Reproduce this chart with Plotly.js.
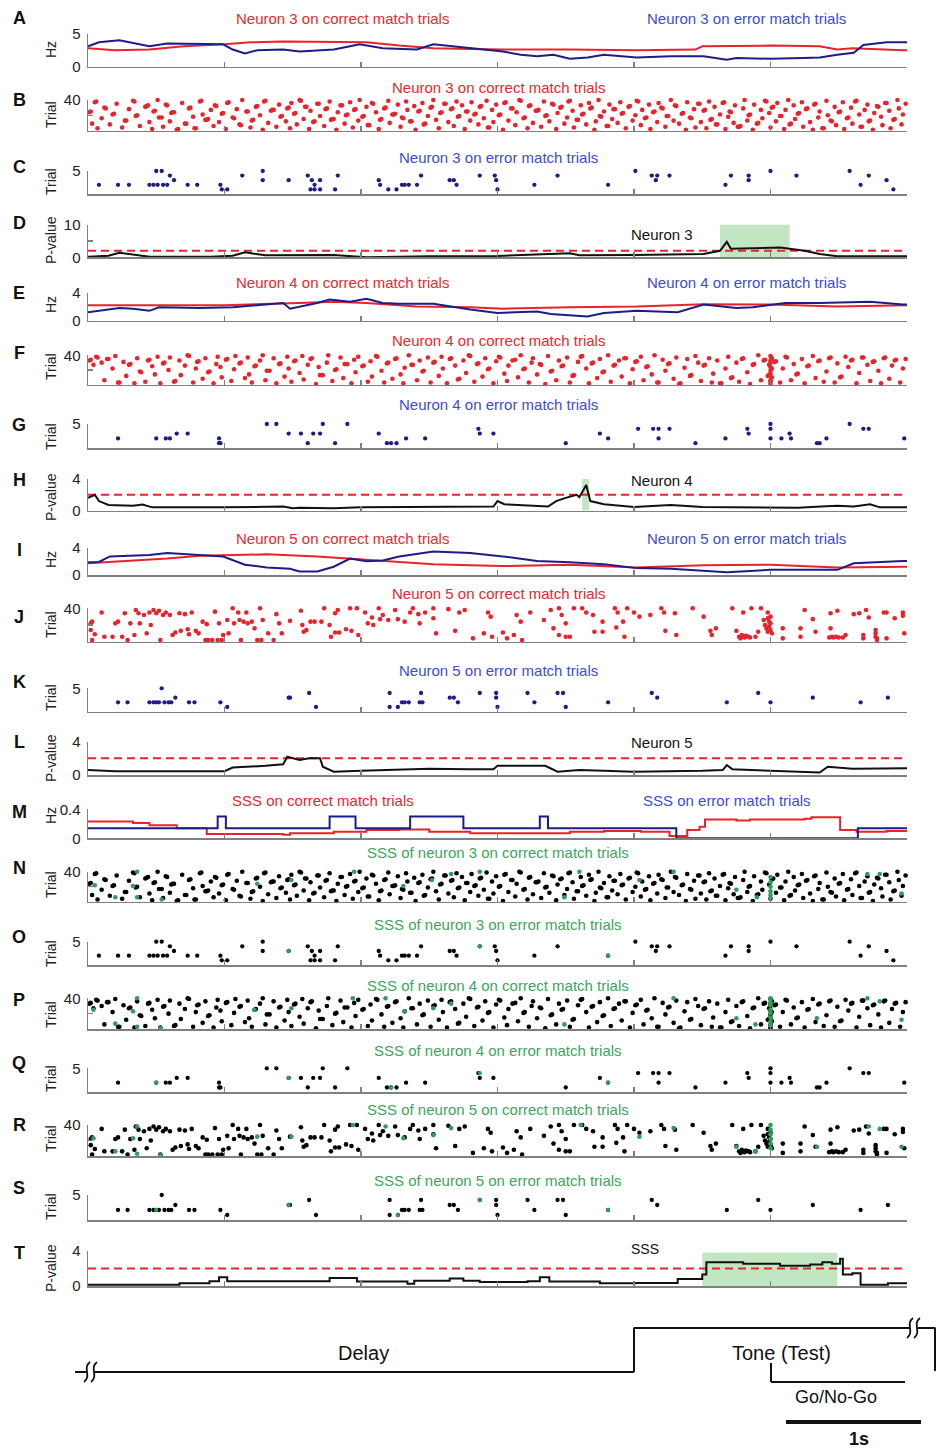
<!DOCTYPE html>
<html><head><meta charset="utf-8">
<script src="https://cdn.plot.ly/plotly-3.0.1.min.js"></script>
<style>body{margin:0;padding:0;background:#fff}#chart{width:937px;height:1448px}</style>
</head><body><div id="chart"></div>
<script>
// ---------------- DATA ----------------
const xTicks=[1,2,3,4,5,6];
const threshold=2;
// firing rates (Hz)
const n3CorrRateT=[0,0.2,0.45,0.7,1.0,1.19,1.43,1.8,2.04,2.28,2.53,2.8,3.04,3.53,4.02,4.45,4.5,5.0,5.36,5.49,5.6,5.97,6.0];
const n3CorrRate=[2.8,2.5,2.6,3.1,3.4,3.7,3.8,3.8,3.7,3.2,2.8,2.7,2.6,2.6,2.5,2.6,3.1,3.2,3.1,2.6,2.8,2.5,2.5];
const n3ErrRateT=[0,0.08,0.23,0.33,0.45,0.58,0.82,0.99,1.06,1.15,1.24,1.43,1.55,1.8,1.92,1.99,2.16,2.41,2.53,2.8,2.92,3.04,3.17,3.29,3.41,3.53,3.66,3.78,4.02,4.27,4.51,4.68,4.75,5.0,5.24,5.36,5.49,5.61,5.68,5.85,6.0];
const n3ErrRate=[3.1,3.7,4.0,3.6,3.1,3.5,3.4,3.4,2.6,2.0,2.5,2.6,2.3,2.6,3.1,3.4,2.8,2.6,3.4,2.8,2.6,2.3,1.8,1.6,1.8,1.2,1.4,1.8,1.4,1.6,1.6,1.06,1.3,1.2,1.3,1.4,1.8,2.1,3.3,3.7,3.7];
const n4CorrRateT=[0,1.0,1.55,1.8,2.04,2.41,2.8,3.04,3.53,4.02,4.51,5.0,5.49,5.97,6.0];
const n4CorrRate=[2.2,2.2,2.5,2.7,2.5,2.0,1.9,1.7,1.9,2.0,2.35,2.3,2.0,2.2,2.2];
const n4ErrRateT=[0,0.08,0.23,0.33,0.45,0.52,0.82,1.06,1.31,1.43,1.48,1.55,1.68,1.77,1.92,2.04,2.16,2.28,2.53,2.8,3.0,3.29,3.39,3.66,3.78,4.02,4.32,4.51,4.75,4.87,5.11,5.36,5.49,5.73,5.97,6.0];
const n4ErrRate=[1.2,1.4,1.8,1.7,1.4,1.9,1.8,1.9,2.25,2.5,1.7,2.0,2.5,3.0,2.7,3.1,2.5,2.4,2.4,1.6,1.1,1.3,0.95,0.6,1.1,1.4,1.2,2.3,1.8,1.9,2.5,2.5,2.6,2.7,2.3,2.3];
const n5CorrRateT=[0,0.33,0.58,0.82,1.06,1.31,1.68,1.92,2.28,2.53,2.8,3.04,3.53,4.02,4.51,5.0,5.49,5.97,6.0];
const n5CorrRate=[1.7,2.05,2.4,2.8,2.9,3.0,2.7,2.4,1.85,1.55,1.4,1.3,1.5,1.1,1.4,1.5,1.1,1.2,1.2];
const n5ErrRateT=[0,0.08,0.16,0.33,0.45,0.58,0.82,0.99,1.15,1.31,1.48,1.55,1.68,1.8,1.92,2.04,2.16,2.28,2.53,2.8,3.04,3.29,3.53,3.78,4.02,4.27,4.68,5.0,5.49,5.61,5.97,6.0];
const n5ErrRate=[1.85,1.9,2.7,2.8,2.9,3.2,2.9,2.7,1.5,1.1,0.9,0.5,0.5,1.2,2.4,2.0,2.1,2.7,3.4,3.2,2.7,2.05,1.85,1.55,1.0,0.9,0.4,0.75,0.75,1.7,2.05,2.05];
const sssCorrRateT=[0,0.33,0.45,0.65,0.87,1.43,1.48,1.8,2.04,2.28,2.5,2.8,3.53,3.78,4.05,4.26,4.39,4.48,4.52,4.75,4.85,5.25,5.3,5.49,5.51,5.63,5.85,6.0];
const sssCorrRate=[0.23,0.21,0.18,0.14,0.06,0.05,0.07,0.09,0.115,0.12,0.09,0.07,0.09,0.1,0.09,0.03,0.115,0.16,0.26,0.245,0.26,0.27,0.29,0.29,0.115,0.09,0.10,0.10];
const sssErrRateT=[0,0.95,1.01,1.77,1.96,2.36,2.75,3.31,3.37,4.31,5.64,6.0];
const sssErrRate=[0.14,0.30,0.14,0.30,0.14,0.30,0.14,0.30,0.14,0,0.14,0.14];
// p-value curves
const pN3T=[0,0.15,0.23,0.3,0.45,0.9,1.06,1.15,1.3,1.8,2.04,2.5,3.0,3.53,3.6,4.0,4.51,4.63,4.68,4.71,4.8,5.07,5.14,5.25,5.36,5.49,6.0];
const pN3=[0.2,0.45,1.4,1.0,0.2,0.2,0.45,1.5,0.6,0.7,0.0,0.3,0.4,1.2,0.6,0.7,1.0,2.0,4.7,2.6,2.7,3.0,2.6,2.0,1.0,0.3,0.3];
const pN4T=[0,0.05,0.08,0.15,0.33,0.4,0.47,0.55,1.0,1.43,1.5,1.55,1.8,2.0,2.5,2.8,2.97,3.0,3.05,3.37,3.43,3.5,3.58,3.6,3.65,3.68,3.78,4.0,4.27,4.5,4.85,5.0,5.2,5.37,5.49,5.61,5.73,5.8,6.0];
const pN4=[1.6,2.0,1.2,0.7,0.6,0.75,0.4,0.4,0.4,0.5,0.3,0.35,0.3,0.4,0.45,0.4,0.5,1.2,0.8,0.5,1.2,1.6,2.0,1.7,3.25,1.2,0.8,0.45,0.7,0.45,0.4,0.3,0.35,0.5,0.6,0.5,0.8,0.4,0.4];
const pN5T=[0,0.2,1.0,1.06,1.3,1.43,1.46,1.55,1.62,1.7,1.72,1.8,2.0,2.5,2.8,2.97,3.0,3.35,3.44,3.6,3.78,4.0,4.5,4.65,4.68,4.72,5.0,5.36,5.42,5.6,6.0];
const pN5=[0.6,0.45,0.45,0.9,1.1,1.3,2.2,1.8,2.0,2.0,1.0,0.4,0.5,0.75,0.7,0.7,1.1,1.1,0.4,0.6,0.5,0.4,0.5,0.6,1.2,0.7,0.5,0.3,1.0,0.75,0.8];
const pSSST=[0,0.45,0.67,0.89,0.96,1.02,1.77,1.97,2.34,2.39,2.65,2.75,2.87,3.22,3.31,3.38,3.75,4.01,4.32,4.5,4.53,4.8,5.07,5.29,5.38,5.45,5.51,5.53,5.6,5.66,5.86,6.0];
const pSSS=[0.15,0.15,0.3,0.55,1.0,0.55,0.9,0.5,0.25,0.6,0.85,0.6,0.45,0.55,1.0,0.5,0.3,0.35,0.8,1.3,2.7,2.55,2.3,2.45,2.7,2.55,3.1,1.3,1.45,0.15,0.3,0.3];
const sigN3=[4.63,5.14], sigN4=[3.62,3.67], sigSSS=[4.5,5.49];
const sigTop={n3:10,n4:4.2,sss:3.8};
// spike rasters [time s, trial]
const n3CorrSpikes=[[0.01,24],[0.02,25],[0.03,9],[0.05,37],[0.06,38],[0.07,3],[0.1,16],[0.12,30],[0.13,29],[0.16,8],[0.18,21],[0.19,22],[0.21,35],[0.25,4],[0.27,13],[0.28,13],[0.3,28],[0.33,39],[0.34,38],[0.35,19],[0.36,20],[0.38,6],[0.42,31],[0.43,32],[0.44,33],[0.45,11],[0.47,2],[0.48,25],[0.49,26],
[0.51,40],[0.52,17],[0.54,17],[0.55,5],[0.57,34],[0.58,33],[0.6,12],[0.61,23],[0.62,24],[0.63,24],[0.65,1],[0.66,2],[0.69,36],[0.71,9],[0.72,9],[0.74,29],[0.75,30],[0.77,18],[0.78,3],[0.79,3],[0.82,38],[0.83,39],[0.84,21],[0.86,14],[0.87,14],[0.88,15],[0.9,27],[0.92,6],[0.93,33],[0.94,32],[0.96,11],[0.98,22],[0.99,23],
[1.01,2],[1.02,36],[1.03,37],[1.06,17],[1.07,16],[1.09,28],[1.11,8],[1.12,7],[1.13,40],[1.16,25],[1.17,25],[1.19,4],[1.2,13],[1.21,14],[1.23,31],[1.24,32],[1.26,20],[1.28,1],[1.29,38],[1.3,39],[1.32,10],[1.34,26],[1.35,27],[1.36,27],[1.38,5],[1.4,34],[1.41,18],[1.42,19],[1.45,12],[1.46,29],[1.47,30],[1.48,3],[1.49,36],
[1.51,22],[1.52,23],[1.53,8],[1.55,40],[1.56,39],[1.58,15],[1.59,31],[1.6,31],[1.62,2],[1.63,26],[1.65,11],[1.66,12],[1.68,35],[1.69,35],[1.7,19],[1.73,6],[1.74,28],[1.75,29],[1.77,38],[1.78,14],[1.79,15],[1.8,15],[1.82,1],[1.83,24],[1.85,33],[1.86,33],[1.88,9],[1.89,20],[1.9,21],[1.92,37],[1.94,4],[1.95,27],[1.96,28],[1.98,13],[1.99,40],
[2.01,18],[2.02,19],[2.04,31],[2.05,7],[2.06,7],[2.08,36],[2.09,35],[2.11,24],[2.13,2],[2.14,14],[2.15,15],[2.17,29],[2.18,30],[2.2,39],[2.21,10],[2.23,21],[2.24,21],[2.25,22],[2.27,34],[2.29,5],[2.3,17],[2.31,16],[2.33,38],[2.34,27],[2.36,12],[2.37,12],[2.39,32],[2.4,1],[2.42,25],[2.43,26],[2.45,36],[2.46,8],[2.47,9],[2.49,19],
[2.51,30],[2.52,31],[2.53,40],[2.55,14],[2.57,3],[2.58,23],[2.59,24],[2.61,35],[2.62,35],[2.64,11],[2.66,28],[2.67,29],[2.68,6],[2.7,38],[2.71,18],[2.72,19],[2.74,33],[2.76,2],[2.77,25],[2.78,25],[2.8,13],[2.81,37],[2.83,21],[2.84,22],[2.86,8],[2.87,31],[2.88,32],[2.9,16],[2.92,39],[2.93,4],[2.94,4],[2.96,27],[2.97,11],[2.99,34],
[3.01,20],[3.02,21],[3.04,1],[3.05,36],[3.06,37],[3.08,13],[3.1,29],[3.11,29],[3.13,7],[3.14,24],[3.16,40],[3.17,39],[3.19,16],[3.2,17],[3.22,3],[3.23,32],[3.24,33],[3.26,10],[3.28,26],[3.29,26],[3.3,27],[3.32,5],[3.34,38],[3.35,19],[3.36,20],[3.38,12],[3.4,35],[3.41,34],[3.43,2],[3.44,23],[3.46,30],[3.47,31],[3.49,9],
[3.51,17],[3.52,38],[3.53,39],[3.55,26],[3.56,4],[3.58,14],[3.59,14],[3.61,33],[3.62,21],[3.63,22],[3.65,8],[3.67,36],[3.68,29],[3.69,30],[3.71,1],[3.72,12],[3.74,40],[3.75,19],[3.76,18],[3.78,25],[3.8,6],[3.81,6],[3.82,34],[3.84,15],[3.85,28],[3.86,28],[3.88,10],[3.9,37],[3.91,22],[3.92,23],[3.94,3],[3.96,31],[3.97,32],[3.99,13],
[4.01,20],[4.02,39],[4.03,38],[4.05,7],[4.06,27],[4.08,16],[4.09,17],[4.11,34],[4.12,2],[4.14,24],[4.15,25],[4.17,11],[4.18,36],[4.2,30],[4.21,29],[4.23,5],[4.24,19],[4.25,19],[4.27,40],[4.29,13],[4.3,33],[4.31,32],[4.33,9],[4.35,22],[4.36,23],[4.38,1],[4.39,37],[4.41,17],[4.42,16],[4.44,28],[4.45,4],[4.47,35],[4.48,35],[4.49,11],
[4.51,26],[4.52,27],[4.53,3],[4.55,38],[4.56,14],[4.57,15],[4.59,31],[4.6,8],[4.61,8],[4.63,21],[4.65,36],[4.66,37],[4.67,2],[4.69,18],[4.7,25],[4.71,24],[4.73,10],[4.74,33],[4.76,5],[4.77,5],[4.78,6],[4.8,29],[4.81,40],[4.83,13],[4.84,20],[4.85,21],[4.87,1],[4.88,34],[4.9,9],[4.91,10],[4.93,27],[4.94,16],[4.96,39],[4.97,38],[4.99,23],
[5.0,4],[5.01,30],[5.02,31],[5.04,12],[5.05,36],[5.07,19],[5.08,19],[5.1,2],[5.11,27],[5.13,40],[5.14,8],[5.15,9],[5.17,33],[5.18,15],[5.2,22],[5.21,23],[5.23,37],[5.24,5],[5.26,28],[5.27,29],[5.29,11],[5.31,1],[5.32,34],[5.33,35],[5.35,17],[5.36,25],[5.38,3],[5.39,3],[5.41,39],[5.42,20],[5.44,13],[5.45,12],[5.47,31],[5.48,7],
[5.5,24],[5.51,25],[5.53,37],[5.54,2],[5.56,16],[5.57,17],[5.59,30],[5.6,9],[5.62,38],[5.63,39],[5.65,21],[5.66,5],[5.67,5],[5.69,27],[5.71,34],[5.72,12],[5.73,13],[5.75,1],[5.76,23],[5.78,32],[5.79,31],[5.81,18],[5.82,7],[5.84,36],[5.85,36],[5.87,26],[5.88,3],[5.9,14],[5.91,15],[5.93,40],[5.94,29],[5.96,8],[5.97,21],[5.99,35]];
const n3ErrSpikes=[[0.13,6],[0.08,2],[0.22,2],[0.30,2],[0.38,6],[0.50,7],[0.50,5],[0.54,5],[0.45,2],[0.48,2],[0.51,2],[0.55,2],[0.58,2],[0.60,4],[0.63,3],[0.73,2],[0.80,2],[0.97,2],[0.98,1],[1.02,1],[1.13,4],[1.28,5],[1.28,3],[1.37,7],[1.47,3],[1.61,4],[1.64,3],[1.70,3],[1.63,1],[1.66,1],[1.70,1],[1.66,2],[1.83,4],[1.81,1],[2.0,6],[2.13,3],[2.14,2],[2.2,1],[2.26,1],[2.3,2],[2.32,2],[2.35,2],[2.41,2],[2.44,4],[2.65,3],[2.68,3],[2.7,2],[2.87,4],[2.98,4],[2.99,3],[3.0,1],[3.27,2],[3.44,4],[3.81,2],[4.01,5],[4.13,4],[4.17,4],[4.16,3],[4.26,4],[4.57,6],[4.67,2],[4.71,4],[4.84,4],[4.84,3],[5.0,5],[5.08,7],[5.19,7],[5.19,4],[5.58,5],[5.69,7],[5.72,4],[5.66,2],[5.85,3],[5.9,1]];
const n4CorrSpikes=[[0.01,33],[0.02,34],[0.04,27],[0.06,38],[0.07,37],[0.1,30],[0.12,6],[0.14,35],[0.15,35],[0.18,22],[0.2,39],[0.22,3],[0.23,3],[0.26,31],[0.28,12],[0.3,27],[0.31,28],[0.34,2],[0.36,36],[0.38,18],[0.39,17],[0.42,4],[0.44,33],[0.45,34],[0.47,25],[0.49,14],
[0.51,38],[0.53,2],[0.55,29],[0.56,30],[0.59,20],[0.6,37],[0.63,4],[0.64,5],[0.67,33],[0.68,13],[0.71,26],[0.73,40],[0.74,39],[0.77,3],[0.79,22],[0.8,31],[0.81,32],[0.84,8],[0.86,36],[0.88,17],[0.89,18],[0.92,2],[0.94,28],[0.95,38],[0.97,24],[0.98,10],
[1.01,34],[1.02,35],[1.05,5],[1.07,21],[1.08,39],[1.11,29],[1.12,30],[1.15,9],[1.17,37],[1.18,14],[1.2,3],[1.22,25],[1.23,26],[1.26,33],[1.28,40],[1.3,6],[1.31,19],[1.33,19],[1.36,36],[1.38,2],[1.4,28],[1.41,29],[1.44,11],[1.46,38],[1.47,22],[1.49,4],
[1.51,32],[1.52,33],[1.55,16],[1.57,39],[1.58,7],[1.61,27],[1.63,35],[1.64,36],[1.67,1],[1.69,24],[1.7,13],[1.72,13],[1.75,30],[1.76,40],[1.79,5],[1.81,20],[1.82,21],[1.85,37],[1.87,9],[1.88,28],[1.9,28],[1.93,2],[1.95,34],[1.96,17],[1.98,38],
[2.01,25],[2.02,26],[2.05,4],[2.07,32],[2.08,11],[2.11,39],[2.12,38],[2.15,19],[2.17,3],[2.19,29],[2.2,30],[2.23,8],[2.25,35],[2.26,36],[2.29,14],[2.31,2],[2.32,23],[2.35,40],[2.37,27],[2.38,27],[2.41,6],[2.43,33],[2.45,18],[2.46,19],[2.49,37],
[2.51,3],[2.53,30],[2.54,31],[2.57,12],[2.59,38],[2.6,22],[2.63,2],[2.65,35],[2.66,36],[2.69,26],[2.71,7],[2.72,8],[2.75,33],[2.77,16],[2.79,40],[2.8,39],[2.83,4],[2.85,28],[2.86,29],[2.89,11],[2.91,36],[2.93,21],[2.94,22],[2.97,2],[2.99,32],
[3.01,38],[3.02,37],[3.05,15],[3.07,5],[3.08,26],[3.11,33],[3.13,34],[3.15,10],[3.17,40],[3.19,21],[3.2,22],[3.23,3],[3.25,30],[3.26,36],[3.29,14],[3.31,28],[3.32,27],[3.35,1],[3.37,39],[3.39,18],[3.4,19],[3.43,6],[3.45,33],[3.47,25],[3.48,26],
[3.51,37],[3.53,3],[3.55,12],[3.56,13],[3.59,31],[3.61,38],[3.62,39],[3.65,22],[3.67,2],[3.69,29],[3.7,30],[3.73,9],[3.75,35],[3.77,17],[3.78,18],[3.81,40],[3.83,4],[3.85,26],[3.86,27],[3.89,33],[3.91,11],[3.93,36],[3.94,36],[3.97,2],[3.99,21],
[4.01,31],[4.02,32],[4.05,38],[4.07,6],[4.09,24],[4.1,25],[4.13,14],[4.15,40],[4.17,3],[4.18,3],[4.21,34],[4.23,19],[4.25,28],[4.26,29],[4.29,8],[4.31,37],[4.33,1],[4.34,2],[4.37,23],[4.39,35],[4.41,12],[4.42,13],[4.45,39],[4.47,30],[4.49,5],
[4.51,26],[4.52,27],[4.55,36],[4.57,3],[4.58,15],[4.61,33],[4.63,2],[4.64,2],[4.67,22],[4.69,38],[4.71,9],[4.72,10],[4.75,30],[4.77,4],[4.79,35],[4.8,36],[4.83,17],[4.85,1],[4.87,27],[4.88,28],[4.91,40],[4.93,6],[4.95,33],[4.96,34],[4.98,12],
[5.0,1],[5.0,4],[5.0,6],[5.01,10],[4.99,13],[5.0,15],[5.0,19],[5.01,22],[5.0,24],[4.99,27],[5.0,30],[5.0,33],[5.01,36],[5.0,39],
[5.03,31],[5.04,32],[5.07,3],[5.09,22],[5.11,38],[5.12,37],[5.15,6],[5.17,28],[5.19,14],[5.2,15],[5.23,35],[5.25,2],[5.27,25],[5.28,26],[5.31,39],[5.33,9],[5.35,32],[5.36,33],[5.39,4],[5.41,18],[5.43,36],[5.44,37],[5.47,3],[5.49,29],
[5.51,10],[5.52,11],[5.55,38],[5.57,24],[5.59,33],[5.6,34],[5.63,2],[5.65,16],[5.67,37],[5.68,37],[5.71,27],[5.73,5],[5.75,31],[5.76,32],[5.79,19],[5.81,2],[5.83,36],[5.84,37],[5.87,8],[5.89,26],[5.91,33],[5.92,34],[5.95,3],[5.97,22],[5.99,35]];
const n4ErrSpikes=[[0.16,6],[0.22,2],[0.38,6],[0.5,2],[0.57,2],[0.6,2],[0.65,3],[0.73,3],[0.77,6],[0.96,2],[0.96,1],[0.97,1],[1.31,5],[1.38,5],[1.47,3],[1.56,3],[1.61,1],[1.65,3],[1.7,3],[1.72,5],[1.81,1],[1.9,5],[1.99,6],[2.13,3],[2.19,1],[2.22,1],[2.26,1],[2.33,2],[2.47,2],[2.86,4],[2.87,3],[2.97,3],[3.14,7],[3.13,6],[3.5,1],[3.75,3],[3.81,2],[4.03,4],[4.14,4],[4.18,4],[4.26,4],[4.18,2],[4.45,1],[4.67,2],[4.83,4],[4.84,3],[5.0,7],[5.0,5],[5.0,4],[5.0,2],[5.08,2],[5.14,3],[5.15,2],[5.34,1],[5.36,1],[5.41,2],[5.58,5],[5.68,4],[5.72,4],[5.77,6],[5.98,7],[5.98,2]];
const n5CorrSpikes=[[0.02,22],[0.03,24],[0.02,14],[0.03,2],[0.05,9],[0.1,35],[0.12,6],[0.18,6],[0.2,22],[0.22,24],[0.25,6],[0.27,34],[0.29,2],[0.31,22],[0.34,8],[0.35,38],[0.38,22],[0.37,34],[0.41,32],[0.43,10],[0.45,35],[0.46,20],[0.48,38],[0.5,34],[0.52,37],[0.53,2],[0.55,32],[0.57,35],[0.6,32],[0.62,8],[0.64,11],[0.67,34],[0.68,13],[0.71,33],[0.73,15],[0.74,9],[0.76,35],[0.79,13],[0.81,10],[0.84,24],[0.86,2],[0.87,21],[0.88,2],[0.91,2],[0.93,36],[0.95,2],[0.96,22],[0.98,2],[0.99,8],[1.02,26],[1.03,10],[1.06,40],[1.07,22],[1.1,35],[1.11,26],[1.12,2],[1.14,24],[1.16,35],[1.17,22],[1.2,24],[1.22,16],[1.24,2],[1.26,40],[1.27,2],[1.28,26],[1.32,10],[1.36,2],[1.38,33],[1.4,22],[1.42,10],[1.48,25],[1.56,37],[1.57,20],[1.58,12],[1.6,14],[1.63,24],[1.66,24],[1.71,24],[1.73,40],[1.77,20],[1.78,6],[1.81,34],[1.81,11],[1.83,38],[1.84,11],[1.89,15],[1.92,40],[1.93,13],[1.97,40],[1.98,8],
[2.03,35],[2.05,22],[2.08,29],[2.09,20],[2.13,40],[2.14,27],[2.16,32],[2.2,26],[2.25,38],[2.27,27],[2.32,24],[2.36,35],[2.38,40],[2.42,33],[2.43,22],[2.47,35],[2.53,40],[2.53,28],[2.55,10],[2.64,39],[2.69,13],[2.72,35],[2.76,38],
[2.82,4],[2.9,10],[2.93,35],[2.95,30],[2.96,6],[3.04,11],[3.07,4],[3.12,8],[3.14,32],[3.17,24],[3.18,2],[3.24,35],[3.34,26],[3.39,38],[3.41,16],[3.45,40],[3.45,8],[3.47,32],[3.5,22],[3.5,6],[3.53,6],[3.56,40],[3.62,40],[3.65,35],[3.7,32],[3.71,12],[3.77,24],[3.77,12],[3.86,40],[3.88,35],[3.87,17],[3.92,24],[3.93,6],[3.95,40],[4.0,35],[4.04,30],[4.12,32],[4.2,40],[4.22,35],[4.23,13],[4.3,34],[4.31,8],[4.43,40],[4.51,30],[4.56,13],[4.57,8],[4.6,16],[4.72,40],[4.75,13],[4.77,6],[4.78,4],[4.79,8],[4.8,35],[4.81,5],[4.82,7],[4.84,6],[4.85,5],[4.86,40],[4.89,6],[4.91,12],[4.93,40],[4.95,26],[4.96,20],[4.97,16],[4.98,35],[4.98,12],[4.98,28],[4.99,18],[4.99,24],[5.0,14],[5.0,30],[5.0,22],[5.01,10],[5.09,16],[5.09,4],[5.22,16],[5.22,6],[5.25,38],[5.31,27],[5.33,12],[5.43,5],[5.44,34],[5.44,16],[5.45,6],[5.46,5],[5.48,6],[5.49,37],[5.5,5],[5.53,5],[5.55,8],[5.61,33],[5.65,34],[5.68,8],[5.68,4],[5.7,38],[5.72,29],[5.77,14],[5.77,10],[5.77,6],[5.78,4],[5.78,2],[5.83,35],[5.85,35],[5.85,4],[5.91,28],[5.97,35],[5.97,31],[5.98,10]];
const n5ErrSpikes=[[0.22,2],[0.29,2],[0.5,7],[0.54,5],[0.45,2],[0.48,2],[0.5,2],[0.52,2],[0.56,2],[0.59,2],[0.61,2],[0.64,3],[0.74,2],[0.78,2],[0.97,2],[1.02,1],[1.47,3],[1.48,3],[1.62,4],[1.67,1],[2.21,4],[2.21,1],[2.27,1],[2.3,2],[2.32,2],[2.35,2],[2.44,4],[2.43,2],[2.45,2],[2.65,3],[2.68,3],[2.71,2],[2.87,4],[2.99,4],[2.99,3],[3.0,1],[3.22,4],[3.27,2],[3.36,6],[3.44,4],[3.48,4],[3.5,1],[3.81,2],[4.13,4],[4.17,3],[4.68,2],[4.91,4],[5.0,2],[5.19,7],[5.31,3],[5.69,7],[5.66,2],[5.86,3]];
// synchronous (SSS) spikes shown in green
const sss3Corr=[[0.05,22],[0.2,6],[0.33,21],[0.36,40],[0.36,6],[0.54,3],[1.24,24],[1.49,29],[1.95,40],[2.31,21],[2.52,29],[2.66,37],[2.87,40],[3.49,6],[3.6,40],[4.04,29],[4.29,40],[4.75,16],[4.9,6],[5.0,5],[5.0,9],[5.0,14],[5.0,20],[5.0,26],[5.0,33],[5.71,37],[5.8,37],[5.96,11]];
const sss3Err=[[1.47,3],[2.87,4],[3.81,2]];
const sss4Corr=[[0.04,25],[0.2,7],[0.33,23],[0.36,40],[0.36,3],[0.53,1],[1.22,25],[1.49,27],[1.94,40],[2.18,40],[2.32,23],[2.53,27],[2.66,33],[3.49,6],[4.29,40],[4.75,14],[4.89,6],[5.0,40],[5.0,35],[5.0,31],[5.0,25],[5.0,21],[5.0,15],[5.0,10],[5.0,5],[5.34,14],[5.71,40],[5.8,36],[5.96,12]];
const sss4Err=[[0.5,2],[1.47,3],[2.22,1],[2.87,4],[3.81,2]];
const sss5Corr=[[0.04,23],[0.2,6],[0.33,23],[0.36,38],[0.36,3],[0.53,1],[1.24,25],[1.49,25],[1.94,40],[2.18,38],[2.31,23],[2.53,27],[2.66,36],[3.61,40],[4.04,25],[4.29,36],[4.75,12],[4.89,6],[5.0,40],[5.0,34],[5.0,28],[5.0,22],[5.0,16],[5.0,10],[5.34,12],[5.72,38],[5.8,35],[5.96,12]];
const sss5Err=[[0.5,2],[1.47,3],[2.27,1],[2.87,4],[3.81,2]];

// ---------------- STYLE / LAYOUT ----------------
const W=937,H=1448,X0=88,X1=907;
const FONT='"Liberation Sans", Arial, Helvetica, sans-serif';
const RED='#e8232a', NAVY='#1d1d88', REDTXT='#e8282c', BLUETXT='#3b4cd6', GREENTXT='#3ca65c', GREEN='#2f9e58', AX='#808080', BLK='#111';
const P=(x)=>x/W, Q=(y)=>1-y/H;

const panels=[
 {L:'A',top:33.7,bot:66.7,range:[0,5],tv:[0,5],tt:['0','5'],yt:'Hz',ly:18,ay:50},
 {L:'B',top:100,bot:130.5,range:[0,40],tv:[20,40],tt:['','40'],yt:'Trial',ly:100,ay:115},
 {L:'C',top:171,bot:194,range:[0,5],tv:[5],tt:['5'],yt:'Trial',ly:167,ay:182},
 {L:'D',top:224.5,bot:257.3,range:[0,10],tv:[0,5,10],tt:['0','','10'],yt:'P-value',ly:223,ay:240},
 {L:'E',top:292.5,bot:320.7,range:[0,4],tv:[0,4],tt:['0','4'],yt:'Hz',ly:293,ay:305},
 {L:'F',top:355.3,bot:384.7,range:[0,40],tv:[20,40],tt:['','40'],yt:'Trial',ly:353,ay:367},
 {L:'G',top:424,bot:448,range:[0,5],tv:[5],tt:['5'],yt:'Trial',ly:425,ay:437},
 {L:'H',top:479,bot:510.5,range:[0,4],tv:[0,4],tt:['0','4'],yt:'P-value',ly:480,ay:497},
 {L:'I',top:547.5,bot:575,range:[0,4],tv:[0,4],tt:['0','4'],yt:'Hz',ly:550,ay:560},
 {L:'J',top:608.3,bot:641.7,range:[0,40],tv:[20,40],tt:['','40'],yt:'Trial',ly:617,ay:625},
 {L:'K',top:688.3,bot:711.7,range:[0,5],tv:[5],tt:['5'],yt:'Trial',ly:682,ay:698},
 {L:'L',top:741.7,bot:775,range:[0,4],tv:[0,4],tt:['0','4'],yt:'P-value',ly:742,ay:758},
 {L:'M',top:809.3,bot:838.3,range:[0,0.4],tv:[0,0.4],tt:['0','0.4'],yt:'Hz',ly:812,ay:816},
 {L:'N',top:871.7,bot:901.7,range:[0,40],tv:[20,40],tt:['','40'],yt:'Trial',ly:868,ay:885},
 {L:'O',top:941.7,bot:965,range:[0,5],tv:[5],tt:['5'],yt:'Trial',ly:937,ay:954},
 {L:'P',top:998.3,bot:1029,range:[0,40],tv:[20,40],tt:['','40'],yt:'Trial',ly:1000,ay:1015},
 {L:'Q',top:1068.3,bot:1092.3,range:[0,5],tv:[5],tt:['5'],yt:'Trial',ly:1063,ay:1079},
 {L:'R',top:1125,bot:1156,range:[0,40],tv:[20,40],tt:['','40'],yt:'Trial',ly:1125,ay:1139},
 {L:'S',top:1195,bot:1220,range:[0,5],tv:[5],tt:['5'],yt:'Trial',ly:1188,ay:1207},
 {L:'T',top:1251,bot:1286,range:[0,4],tv:[0,4],tt:['0','4'],yt:'P-value',ly:1253,ay:1268}
];
const titles=[
 ['Neuron 3 on correct match trials',REDTXT,342,18],['Neuron 3 on error match trials',BLUETXT,746,18],
 ['Neuron 3 on correct match trials',REDTXT,498,87],['Neuron 3 on error match trials',BLUETXT,498,157],
 ['Neuron 3',BLK,662,235],
 ['Neuron 4 on correct match trials',REDTXT,342,282],['Neuron 4 on error match trials',BLUETXT,746,282],
 ['Neuron 4 on correct match trials',REDTXT,498,340],['Neuron 4 on error match trials',BLUETXT,498,404],
 ['Neuron 4',BLK,662,480],
 ['Neuron 5 on correct match trials',REDTXT,342,538],['Neuron 5 on error match trials',BLUETXT,746,538],
 ['Neuron 5 on correct match trials',REDTXT,498,593],['Neuron 5 on error match trials',BLUETXT,498,670],
 ['Neuron 5',BLK,662,742],
 ['SSS on correct match trials',REDTXT,323,800],['SSS on error match trials',BLUETXT,727,800],
 ['SSS of neuron 3 on correct match trials',GREENTXT,498,852],['SSS of neuron 3 on error match trials',GREENTXT,498,924],
 ['SSS of neuron 4 on correct match trials',GREENTXT,498,985],['SSS of neuron 4 on error match trials',GREENTXT,498,1050],
 ['SSS of neuron 5 on correct match trials',GREENTXT,498,1109],['SSS of neuron 5 on error match trials',GREENTXT,498,1180],
 ['SSS',BLK,645,1249]
];

const sfx=n=>n===1?'':String(n);
const traces=[];
function line(n,t,v,color,shape,width,dash){traces.push({x:t,y:v,xaxis:'x'+sfx(n),yaxis:'y'+sfx(n),type:'scatter',mode:'lines',line:{color:color,width:width||2,shape:shape||'linear',dash:dash||'solid'},hoverinfo:'skip'});}
function dots(n,sp,color,size){traces.push({x:sp.map(d=>d[0]),y:sp.map(d=>d[1]),xaxis:'x'+sfx(n),yaxis:'y'+sfx(n),type:'scatter',mode:'markers',marker:{size:size||4.3,color:color,line:{width:0}},cliponaxis:false,hoverinfo:'skip'});}
function thr(n){line(n,[0,6],[threshold,threshold],'#e8232a','linear',2,'8px,5px');}

line(1,n3CorrRateT,n3CorrRate,RED); line(1,n3ErrRateT,n3ErrRate,NAVY);
dots(2,n3CorrSpikes,RED,4.6); dots(3,n3ErrSpikes,NAVY);
thr(4); line(4,pN3T,pN3,'#111');
line(5,n4CorrRateT,n4CorrRate,RED); line(5,n4ErrRateT,n4ErrRate,NAVY);
dots(6,n4CorrSpikes,RED,4.6); dots(7,n4ErrSpikes,NAVY);
thr(8); line(8,pN4T,pN4,'#111');
line(9,n5CorrRateT,n5CorrRate,RED); line(9,n5ErrRateT,n5ErrRate,NAVY);
dots(10,n5CorrSpikes,RED,4.6); dots(11,n5ErrSpikes,NAVY);
thr(12); line(12,pN5T,pN5,'#111');
line(13,sssCorrRateT,sssCorrRate,RED,'hv'); line(13,sssErrRateT,sssErrRate,NAVY,'hv');
dots(14,n3CorrSpikes,'#000',4.6); dots(14,sss3Corr,GREEN,4.6);
dots(15,n3ErrSpikes,'#000'); dots(15,sss3Err,GREEN);
dots(16,n4CorrSpikes,'#000',4.6); dots(16,sss4Corr,GREEN,4.6);
dots(17,n4ErrSpikes,'#000'); dots(17,sss4Err,GREEN);
dots(18,n5CorrSpikes,'#000',4.6); dots(18,sss5Corr,GREEN,4.6);
dots(19,n5ErrSpikes,'#000'); dots(19,sss5Err,GREEN);
thr(20); line(20,pSSST,pSSS,'#111','hv');

const layout={width:W,height:H,margin:{l:0,r:0,t:0,b:0},paper_bgcolor:'#fff',plot_bgcolor:'rgba(0,0,0,0)',showlegend:false,font:{family:FONT,color:'#222'},annotations:[],shapes:[]};
panels.forEach((p,i)=>{
 const n=i+1,s=sfx(n);
 layout['xaxis'+s]={domain:[X0/W,X1/W],range:[0,6],anchor:'y'+s,showline:true,linecolor:AX,linewidth:1.5,ticks:'inside',ticklen:5,tickwidth:1.3,tickcolor:AX,tickvals:xTicks,showticklabels:false,showgrid:false,zeroline:false,fixedrange:true};
 layout['yaxis'+s]={domain:[Q(p.bot),Q(p.top)],range:p.range,anchor:'x'+s,showline:true,linecolor:AX,linewidth:1.5,ticks:'inside',ticklen:5,tickwidth:1.3,tickcolor:AX,tickvals:p.tv,ticktext:p.tt,tickfont:{size:15,color:'#222',family:FONT},ticklabelstandoff:3,showgrid:false,zeroline:false,fixedrange:true};
 layout.annotations.push({text:'<b>'+p.L+'</b>',x:P(19),y:Q(p.ly),xref:'paper',yref:'paper',xanchor:'center',yanchor:'middle',showarrow:false,font:{size:18,color:'#111',family:FONT}});
 layout.annotations.push({text:p.yt,x:P(51),y:Q(p.ay),xref:'paper',yref:'paper',xanchor:'center',yanchor:'middle',textangle:-90,showarrow:false,font:{size:14,color:'#222',family:FONT}});
});
titles.forEach(t=>layout.annotations.push({text:t[0],x:P(t[2]),y:Q(t[3]),xref:'paper',yref:'paper',xanchor:'center',yanchor:'middle',showarrow:false,font:{size:t[0]==='SSS'?14:15,color:t[1],family:FONT}}));

// significance windows
function sig(n,win,top){layout.shapes.push({type:'rect',xref:'x'+sfx(n),yref:'y'+sfx(n),x0:win[0],x1:win[1],y0:0,y1:top,fillcolor:'rgba(120,200,120,0.45)',line:{width:0},layer:'below'});}
sig(4,sigN3,sigTop.n3); sig(8,sigN4,sigTop.n4); sig(20,sigSSS,sigTop.sss);

// task schematic (paper coordinates from pixels)
function seg(x0,y0,x1,y1,w){layout.shapes.push({type:'line',xref:'paper',yref:'paper',x0:P(x0),y0:Q(y0),x1:P(x1),y1:Q(y1),line:{color:'#111',width:w||2}});}
function wave(cx,cy){const pts=[[cx-3,cy+10],[cx+5,cy+4],[cx-5,cy-4],[cx+3,cy-10]];
 const s=pts.map(p=>P(p[0]).toFixed(5)+','+Q(p[1]).toFixed(5));
 layout.shapes.push({type:'path',xref:'paper',yref:'paper',path:'M'+s[0]+' C'+s[1]+' '+s[2]+' '+s[3],line:{color:'#111',width:1.8}});}
seg(75,1372,86,1372); seg(95,1372,634,1372); seg(634,1372,634,1327.5); seg(634,1328,910,1328); seg(918,1328,935,1328); seg(935,1327.5,935,1371);
wave(87,1372); wave(94,1372); wave(910,1328); wave(917,1328);
seg(771,1363,771,1382); seg(771,1382,905,1382);
seg(786,1422,921,1422,4);
const txt=(t,x,y,sz,b)=>layout.annotations.push({text:b?'<b>'+t+'</b>':t,x:P(x),y:Q(y),xref:'paper',yref:'paper',xanchor:'center',yanchor:'middle',showarrow:false,font:{size:sz,color:'#111',family:FONT}});
txt('Delay',363,1353,20); txt('Tone (Test)',781,1353,20); txt('Go/No-Go',836,1397,18); txt('1s',859,1439,18,true);

Plotly.newPlot('chart',traces,layout,{displayModeBar:false,staticPlot:true});
</script></body></html>
